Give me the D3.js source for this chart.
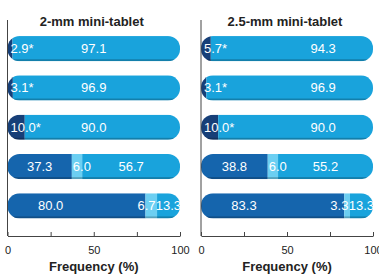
<!DOCTYPE html>
<html>
    <head>
        <title>mini-tablet frequency</title>
        <script src="https://d3js.org/d3.v7.min.js"></script>
        <style>
            body { margin: 0; background: #fff; }
            text { font-family: "Liberation Sans", Arial, sans-serif; }
        </style>
    </head>
    <body>
        <svg id="chart" width="379" height="274"></svg>
    </body>
    <script>
// data
const panelTitles = ["2-mm mini-tablet", "2.5-mm mini-tablet"];
const seg1_2mm = [2.9, 3.1, 10.0, 37.3, 80.0];
const seg2_2mm = [0, 0, 0, 6.0, 6.7];
const seg3_2mm = [97.1, 96.9, 90.0, 56.7, 13.3];
const seg1_25mm = [5.7, 3.1, 10.0, 38.8, 83.3];
const seg2_25mm = [0, 0, 0, 6.0, 3.3];
const seg3_25mm = [94.3, 96.9, 90.0, 55.2, 13.3];
const starred = [true, true, true, false, false];
const tickValues = [0, 25, 50, 75, 100];
const tickLabels = ["0", "50", "100"];
const xTitle = "Frequency (%)";

const panelData = [
    [seg1_2mm, seg2_2mm, seg3_2mm],
    [seg1_25mm, seg2_25mm, seg3_25mm]
];

// layout
const panelX = [[7.5, 180], [201, 373]];
const bigLabelAt = [50, 71];   // where the wide label sits in rows 1-3
const colNavy = "#173f78", colMid = "#1565ad", colLight = "#6ccff2", colMain = "#19a3dc";

const svg = d3.select("#chart");
const y = d3.scaleBand().domain(d3.range(5)).range([29, 225.5]).paddingInner(0.36).paddingOuter(0.18);
const bh = y.bandwidth();
const axisY = 236;

panelData.forEach(function (segs, p) {
    const x = d3.scaleLinear().domain([0, 100]).range(panelX[p]);
    const g = svg.append("g");

    // title
    g.append("text").attr("x", (panelX[p][0] + panelX[p][1]) / 2 - 2).attr("y", 26)
        .attr("text-anchor", "middle").style("font-size", "13px").style("font-weight", "bold")
        .attr("fill", "#222").text(panelTitles[p]);

    d3.range(5).forEach(function (i) {
        const v1 = segs[0][i], v2 = segs[1][i], v3 = segs[2][i];
        const yy = y(i);
        const clipId = "clip" + p + "_" + i;
        g.append("clipPath").attr("id", clipId).append("rect")
            .attr("x", x(0)).attr("y", yy).attr("width", x(100) - x(0)).attr("height", bh)
            .attr("rx", 12).attr("ry", 12);
        const bar = g.append("g").attr("clip-path", "url(#" + clipId + ")");
        bar.append("rect").attr("x", x(0)).attr("y", yy).attr("width", x(v1) - x(0)).attr("height", bh)
            .attr("fill", starred[i] ? colNavy : colMid);
        bar.append("rect").attr("x", x(v1)).attr("y", yy).attr("width", x(v1 + v2) - x(v1)).attr("height", bh)
            .attr("fill", colLight);
        bar.append("rect").attr("x", x(v1 + v2)).attr("y", yy).attr("width", x(100) - x(v1 + v2)).attr("height", bh)
            .attr("fill", colMain);
        // bottom shade
        bar.append("rect").attr("x", x(0)).attr("y", yy + bh - 2).attr("width", x(100) - x(0)).attr("height", 2)
            .attr("fill", "#000").attr("opacity", 0.22);

        const ty = yy + bh / 2 + 4.5;
        const lab = function (xx, anchor, s) {
            g.append("text").attr("x", xx).attr("y", ty).attr("text-anchor", anchor)
                .attr("fill", "#fff").style("font-size", "13px").text(s);
        };
        if (v1 < 15) {
            lab(x(0) + 3, "start", v1.toFixed(1) + (starred[i] ? "*" : ""));
            lab(x(bigLabelAt[p]), "middle", v3.toFixed(1));
        } else {
            lab(x(Math.min(v1 / 2, 25)), "middle", v1.toFixed(1));
            if (v3 < 20) {
                lab(x(v1 + v2) - 1.5, "end", v2.toFixed(1));
                lab(x(100) + 1, "end", v3.toFixed(1));
            } else {
                lab(x(v1) + 1, "start", v2.toFixed(1));
                lab(x(v1 + v2 + v3 / 2), "middle", v3.toFixed(1));
            }
        }
    });

    // axes
    g.append("line").attr("x1", x(0)).attr("x2", x(0)).attr("y1", 20).attr("y2", axisY)
        .attr("stroke", "#444").attr("stroke-width", 1);
    const ax = g.append("g").attr("transform", "translate(0," + axisY + ")")
        .call(d3.axisBottom(x).tickValues(tickValues).tickSizeInner(-4).tickSizeOuter(0)
            .tickFormat(d => tickLabels.includes(String(d)) ? String(d) : ""));
    ax.select(".domain").attr("stroke", "#444");
    ax.selectAll(".tick line").attr("stroke", "#444");
    ax.selectAll(".tick text").attr("y", 10).attr("dy", "0.71em")
        .style("font-size", "11px").attr("fill", "#222")
        .style("font-family", "'Liberation Sans', Arial, sans-serif");

    g.append("text").attr("x", x(50)).attr("y", 271).attr("text-anchor", "middle")
        .style("font-size", "13px").style("font-weight", "bold").attr("fill", "#222").text(xTitle);
});
    </script>
</html>
